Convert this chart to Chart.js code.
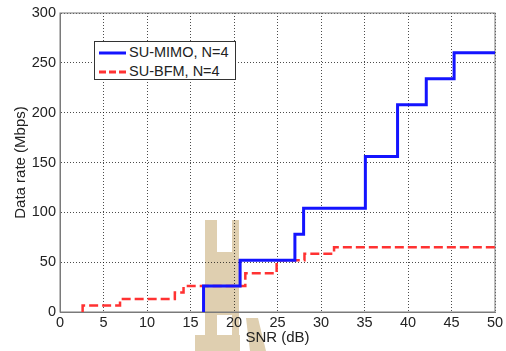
<!DOCTYPE html>
<html>
<head>
<meta charset="utf-8">
<script src="https://cdn.jsdelivr.net/npm/chart.js@4/dist/chart.umd.min.js"></script>
<style>
  html, body { margin: 0; padding: 0; background: #fff; }
  #wrap { position: relative; width: 506px; height: 351px; }
  #marca { position: absolute; left: 0; top: 0; }
  #grafica { position: absolute; left: 0; top: 0; }
  #leyenda {
    position: absolute; left: 94px; top: 41px; width: 142px; height: 39px;
    background: #fff; border: 1px solid #333; box-sizing: border-box;
    font-family: "Liberation Sans", Arial, sans-serif; font-size: 14.5px; color: #222;
  }
  #leyenda .fila { position: absolute; left: 4px; height: 18px; line-height: 18px; white-space: nowrap; }
  #leyenda svg { vertical-align: middle; margin-right: 3px; }
</style>
</head>
<body>
<div id="wrap">
  <!-- marca de agua de fondo -->
  <svg id="marca" width="506" height="351">
    <g fill="#dfcfb0">
      <rect x="205" y="220" width="12" height="32"/>
      <rect x="232" y="220" width="7" height="32"/>
      <rect x="205" y="252" width="34" height="63"/>
      <rect x="205" y="315" width="12" height="20"/>
      <rect x="232" y="315" width="7" height="20"/>
      <rect x="195" y="335" width="45" height="16"/>
      <polygon points="246,318 258,318 266,351 250,351"/>
    </g>
  </svg>
  <canvas id="grafica" width="506" height="351"></canvas>
  <div id="leyenda">
    <div class="fila" style="top:1px"><svg width="27" height="4"><line x1="0" y1="2" x2="27" y2="2" stroke="rgb(20,20,255)" stroke-width="3"/></svg>SU-MIMO, N=4</div>
    <div class="fila" style="top:20px"><svg width="27" height="4"><line x1="0" y1="2" x2="27" y2="2" stroke="rgb(255,50,50)" stroke-width="3" stroke-dasharray="7,3"/></svg>SU-BFM, N=4</div>
  </div>
</div>
<script>
// Datos
const snrMimo = [16.5, 16.5, 20.7, 27.0, 28.0, 35.1, 38.8, 42.1, 45.3, 50];
const rateMimo = [0, 26, 52, 78, 104, 156, 208, 234, 260, 260];

const snrBfm = [2.6, 2.6, 6.9, 13.2, 14.2, 21.3, 24.9, 28.1, 31.5, 50];
const rateBfm = [0, 6.5, 13, 19.5, 26, 39, 52, 58.5, 65, 65];

const xTicks = [0, 5, 10, 15, 20, 25, 30, 35, 40, 45, 50];
const yTicks = [0, 50, 100, 150, 200, 250, 300];

const fuente = "'Liberation Sans', Arial, sans-serif";

function puntos(xs, ys) {
    return xs.map((x, i) => ({ x: x, y: ys[i] }));
}

// Caja gris alrededor del área de la gráfica (estilo MATLAB)
const caja = {
    id: "caja",
    beforeDatasetsDraw(chart) {
        const a = chart.chartArea;
        const ctx = chart.ctx;
        ctx.save();
        ctx.strokeStyle = "#7a7a7a";
        ctx.lineWidth = 1;
        ctx.strokeRect(a.left, a.top, a.right - a.left, a.bottom - a.top);
        ctx.restore();
    }
};

const ctx = document.getElementById("grafica").getContext("2d");
const chart = new Chart(ctx, {
    type: "line",
    data: {
        datasets: [
            {
                label: "SU-MIMO, N=4",
                data: puntos(snrMimo, rateMimo),
                borderColor: "rgb(20,20,255)",
                borderWidth: 3,
                pointRadius: 0,
                stepped: "before",
                fill: false
            },
            {
                label: "SU-BFM, N=4",
                data: puntos(snrBfm, rateBfm),
                borderColor: "rgb(255,50,50)",
                borderWidth: 2.5,
                borderDash: [9, 4],
                pointRadius: 0,
                stepped: "before",
                fill: false
            }
        ]
    },
    options: {
        responsive: false,
        animation: false,
        layout: { padding: { left: 0, right: 11, top: 13, bottom: 0 } },
        plugins: {
            legend: { display: false },
            tooltip: { enabled: false }
        },
        scales: {
            x: {
                type: "linear",
                min: 0,
                max: 50,
                afterBuildTicks: (axis) => { axis.ticks = xTicks.map(v => ({ value: v })); },
                afterFit: (axis) => { axis.height = 39; },
                ticks: {
                    color: "#222",
                    font: { family: fuente, size: 14.5 },
                    padding: 2,
                    maxRotation: 0
                },
                grid: { color: "rgba(0,0,0,0.7)", drawTicks: false },
                border: { display: true, color: "#7a7a7a", dash: [1, 2] },
                title: {
                    display: true,
                    text: "SNR (dB)",
                    color: "#222",
                    font: { family: fuente, size: 15 },
                    padding: { top: 0, bottom: 4 }
                }
            },
            y: {
                type: "linear",
                min: 0,
                max: 300,
                afterBuildTicks: (axis) => { axis.ticks = yTicks.map(v => ({ value: v })); },
                afterFit: (axis) => { axis.width = 60; },
                ticks: {
                    color: "#222",
                    font: { family: fuente, size: 14.5 },
                    padding: 4
                },
                grid: { color: "rgba(0,0,0,0.7)", drawTicks: false },
                border: { display: true, color: "#7a7a7a", dash: [1, 2] },
                title: {
                    display: true,
                    text: "Data rate (Mbps)",
                    color: "#222",
                    font: { family: fuente, size: 15 },
                    padding: { top: 12, bottom: 0 }
                }
            }
        }
    },
    plugins: [caja]
});
</script>
</body>
</html>
